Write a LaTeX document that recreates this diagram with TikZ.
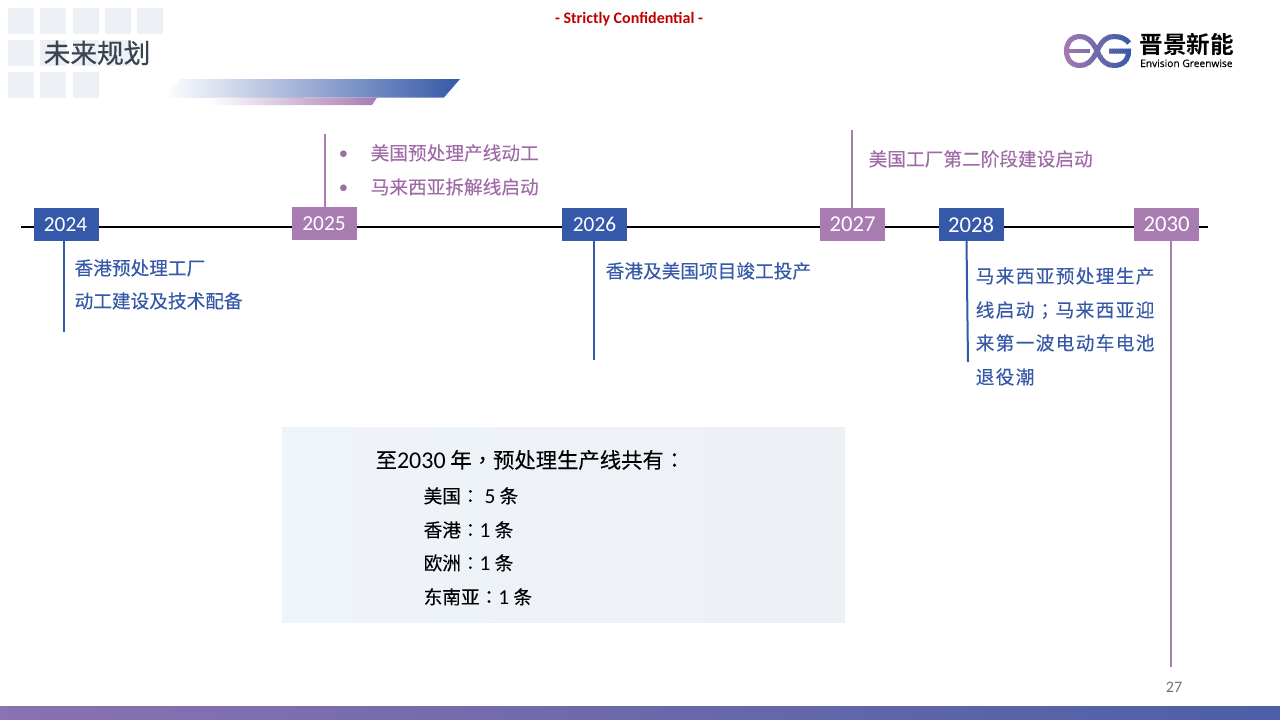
\documentclass[tikz,border=0pt]{standalone}
\usepackage{fontspec}
\setmainfont{Carlito}
\newfontfamily\cjk{Noto Sans CJK SC}[FakeBold=0.2]
\newfontfamily\cjktitle{Noto Sans CJK SC}[FakeBold=0.6]
\newfontfamily\cjktc{Noto Sans CJK TC}[FakeBold=0.2]
\newfontfamily\cjksp{Noto Sans CJK SC}[LetterSpace=7.2,FakeBold=0.2]
\newfontfamily\cjktcsp{Noto Sans CJK TC}[FakeBold=0.2]
\newfontfamily\logocn{Noto Sans CJK SC Bold}
\newfontfamily\logofont{Open Sans}[FakeBold=0.3]
\definecolor{cblue}{HTML}{3558A8}
\definecolor{cpurple}{HTML}{A87BB1}
\definecolor{tpurple}{HTML}{A06CA8}
\definecolor{cgrey}{HTML}{EDF0F4}
\definecolor{tdark}{HTML}{3A4450}
\definecolor{panelL}{HTML}{EFF4FA}
\definecolor{panelR}{HTML}{EDF0F5}
\definecolor{footL}{HTML}{8B72B0}
\definecolor{footR}{HTML}{4C5FA8}
\newcommand{\pxfont}[1]{\fontsize{#1}{#1}\selectfont}
\newcommand{\tc}[1]{{\cjktc #1}}
\newcommand{\logostroke}{%
  \draw[line width=5pt] (1097,51) .. controls (1092,40) and (1086,36.5) .. (1080,36.5) .. controls (1071,36.5) and (1066.5,43) .. (1066.5,51) .. controls (1066.5,59) and (1071,65.5) .. (1080,65.5) .. controls (1086,65.5) and (1092,62) .. (1097,51);
  \draw[line width=4pt] (1066,51) -- (1090,51);
  \draw[line width=5pt] (1097,51) .. controls (1102,40) and (1107,36.5) .. (1114,36.5) .. controls (1121,36.5) and (1126,39) .. (1129,43);
  \draw[line width=5pt] (1097,51) .. controls (1102,62) and (1107,65.5) .. (1114,65.5) .. controls (1123,65.5) and (1128.5,60) .. (1128.5,51) -- (1109,51);
}
\tikzset{
  x=1pt,y=-1pt,
  yearbox/.style={minimum width=65pt,minimum height=33pt,inner sep=0pt,text=white,font=\pxfont{21.33}},
  yblue/.style={yearbox,fill=cblue},
  ypurple/.style={yearbox,fill=cpurple},
  stemblue/.style={draw=cblue,line width=2pt},
  stempurple/.style={draw=cpurple,line width=2pt},
  lbl/.style={anchor=base west,inner sep=0pt,font=\cjk\pxfont{18.67}},
  lblblue/.style={lbl,text=cblue},
  lblpurple/.style={lbl,text=tpurple},
  bulletmark/.style={anchor=base,inner sep=0pt,text=tpurple,font=\rmfamily\pxfont{18.67}},
  lblsp/.style={anchor=base west,inner sep=0pt,text=cblue,font=\cjksp\pxfont{18.67}},
  panelhead/.style={anchor=base west,inner sep=0pt,font=\cjk\pxfont{21.33},text=black},
  panelline/.style={anchor=base west,inner sep=0pt,font=\cjk\pxfont{18.67},text=black},
  tile/.style={fill=cgrey,draw=none},
}
\begin{document}
\begin{tikzpicture}
\useasboundingbox (0,0) rectangle (1280,720);
\fill[white] (0,0) rectangle (1280,720);
% tiles
\foreach \xa/\ya in {8/8,40/8,73/8,105/8,137/8,8/40,40/40,73/40,105/40,8/72,40/72,73/72}{
  \fill[tile] (\xa,\ya) rectangle ++(26,26);
}
\node[anchor=base west,inner sep=0pt,text=tdark,font=\cjktitle\pxfont{26.67}] (title) at (43.5,63) {未来规划};
% header bars
\shade[left color=white,middle color=cblue!28!panelR,right color=cblue,shading angle=90] (163,98) -- (180,79) -- (460,79) -- (444,97.5) -- cycle;
\shade[left color=white,middle color=cpurple!25!white,right color=cpurple,shading angle=90] (208,105) -- (215,97.5) -- (377,97.5) -- (372,105) -- cycle;
\node[inner sep=0pt,text=red!75!black,font=\bfseries\pxfont{16}] (conf) at (629,18.7) {- Strictly Confidential -};
% logo: a stroke that runs from purple to blue, laid down in narrow strips
\foreach \i in {0,2,...,70}{
  \pgfmathsetmacro{\p}{min(100,\i*1.45)}
  \colorlet{logostrip}{cblue!\p!cpurple}
  \begin{scope}
    \clip (1062+\i,30) rectangle (1064.6+\i,72);
    \begin{scope}[draw=logostrip]
      \logostroke
    \end{scope}
  \end{scope}
}
\node[anchor=base west,inner sep=0pt,font=\logocn\pxfont{23.6}] (logocn) at (1139.5,53) {晋景新能};
\node[anchor=base west,inner sep=0pt,font=\logofont\pxfont{10.2}] (logoen) at (1140,67) {Envision Greenwise};
% timeline
\coordinate (tlL) at (21,227);
\coordinate (tlR) at (1208,227);
\draw[black,line width=2pt] (tlL) -- (tlR);
% year boxes
\node[yblue]   (y24) at (66.5,224.5) {\kern-2pt 2024};
\node[ypurple] (y25) at (324.5,223.5) {\kern-1pt 2025};
\node[yblue]   (y26) at (594.5,224.5) {2026};
\node[ypurple,font=\pxfont{22.67}] (y27) at (852.5,224.5) {2027};
\node[yblue,font=\pxfont{22.67}]   (y28) at (971.5,224.5) {\kern-1pt 2028};
\node[ypurple,font=\pxfont{22.67}] (y30) at (1166.5,224.5) {2030};
% stems
\coordinate (e24) at (64.2,332);
\coordinate (e25) at (325,134);
\coordinate (e26) at (594,360);
\coordinate (e27) at (851.5,130);
\coordinate (s28) at (966.5,241);
\coordinate (e28) at (968,362);
\coordinate (e30) at (1171,667);
\draw[stemblue] (y24.south -| e24) -- (e24);
\draw[stempurple] (y25.north -| e25) -- (e25);
\draw[stemblue] (y26.south -| e26) -- (e26);
\draw[stempurple] (y27.north -| e27) -- (e27);
\draw[stemblue] (s28) -- (e28);
\draw[stempurple] (y30.south -| e30) -- (e30);
% labels
\node[lblblue] (a1) at (74.4,275) {香港预处理工厂};
\node[lblblue] (a2) at (74.4,308) {动工建设及技术配备};
\node[bulletmark] (b0) at (343.5,159) {•};
\node[lblpurple] (b1) at (370.5,160) {美国预处理产线动工};
\node[bulletmark] (b2) at (343.5,193) {•};
\node[lblpurple] (b3) at (370.5,194) {马来西亚拆解线启动};
\node[lblblue] (c1) at (605.5,278) {香港及美国项目竣工投产};
\node[lblpurple] (d1) at (868.5,166) {美国工厂第二阶段建设启动};
\node[lblsp] (e1) at (975.5,283) {马来西亚预处理生产};
\node[lblsp] (e2) at (975.5,317) {线启动\kern1.3pt{\cjktcsp\pxfont{18.67}；}\kern1.3pt 马来西亚迎};
\node[lblsp] (e3) at (975.5,350) {来第一波电动车电池};
\node[lblsp] (e4) at (975.5,384) {退役潮};
% panel
\shade[left color=panelL,right color=panelR,shading angle=90] (282,427) rectangle (845,622);
\node[panelhead] (p0) at (375.5,468) {至{\pxfont{24}\rmfamily 2030} 年\tc{，}预处理生产线共有\tc{：}};
\node[panelline] (p1) at (423.5,503) {美国\tc{：}{\rmfamily\pxfont{21.33} 5} 条};
\node[panelline] (p2) at (423.5,537) {香港\tc{：}{\rmfamily\pxfont{21.33}1} 条};
\node[panelline] (p3) at (423.5,570) {欧洲\tc{：}{\rmfamily\pxfont{21.33}1} 条};
\node[panelline] (p4) at (423.5,604) {东南亚\tc{：}{\rmfamily\pxfont{21.33}1} 条};
% footer
\node[inner sep=0pt,text=black!55,font=\pxfont{16}] (pg) at (1174,687) {27};
\shade[left color=footL,right color=footR,shading angle=90] (0,706) rectangle (1280,720);
\end{tikzpicture}
\end{document}
